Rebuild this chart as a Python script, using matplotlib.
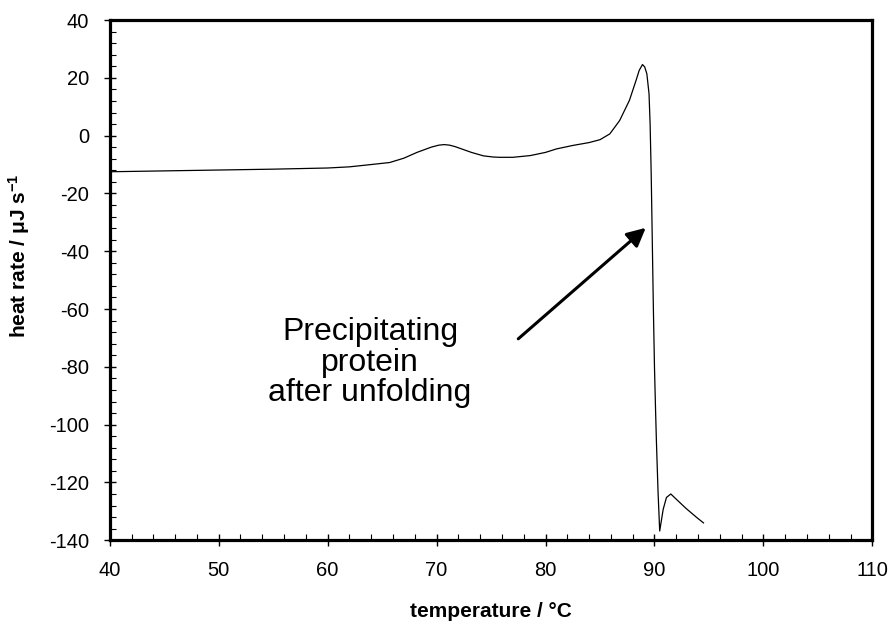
import matplotlib
matplotlib.use('Agg')
import matplotlib.pyplot as plt
from matplotlib.ticker import MultipleLocator

plt.rcParams['font.family'] = ['Liberation Sans', 'DejaVu Sans']
plt.rcParams['mathtext.fontset'] = 'custom'
plt.rcParams['mathtext.rm'] = 'Liberation Sans'
plt.rcParams['mathtext.bf'] = 'Liberation Sans:bold'
plt.rcParams['mathtext.default'] = 'bf'
plt.rcParams['axes.unicode_minus'] = False

# thermogram
temperature = [40, 45, 50, 55, 60, 62, 64, 65.7, 67, 68.2, 69.5, 70.2, 70.7, 71.2,
               71.7, 72.3, 73.2, 74.3, 75.2, 75.8, 77, 78.6, 80, 81, 82.5, 84, 85,
               85.9, 86.8, 87.7, 88.3, 88.6, 88.9, 89.1, 89.3, 89.5, 89.6, 89.7,
               89.8, 89.9, 90.0, 90.1, 90.18, 90.33, 90.48, 90.8, 91.1, 91.5, 92.0,
               92.9, 93.9, 94.5]
heat_rate = [-12.5, -12.2, -11.9, -11.6, -11.2, -10.8, -10.0, -9.3, -7.8, -5.8, -4.0,
             -3.3, -3.1, -3.3, -3.8, -4.6, -5.8, -7.0, -7.4, -7.5, -7.5, -6.9, -5.8,
             -4.6, -3.4, -2.4, -1.4, 0.6, 5.2, 12.2, 19, 22.6, 24.6, 23.8, 21.4, 14.5,
             4, -13.3, -36.5, -60, -80, -95, -106, -123.5, -136.8, -129.3, -125.2,
             -124, -125.8, -129, -132.2, -134]

note_text = 'Precipitating\nprotein\nafter unfolding'
note_xy = (63.9, -78.5)
arrow_tip = (89.2, -31.9)
arrow_tail = (77.5, -70.3)

fig = plt.figure(figsize=(8.92, 6.26), dpi=100)
ax = fig.add_axes([0.123, 0.137, 0.855, 0.831])

ax.plot(temperature, heat_rate, color='black', linewidth=0.9)

ax.annotate('', xy=arrow_tip, xytext=arrow_tail,
            arrowprops=dict(arrowstyle='-|>', color='black', lw=2.2,
                            mutation_scale=28, shrinkA=0, shrinkB=0))
ax.text(note_xy[0], note_xy[1], note_text, ha='center', va='center',
        fontsize=23, linespacing=1.02)

ax.set_xlim(40, 110)
ax.set_ylim(-140, 40)
ax.xaxis.set_major_locator(MultipleLocator(10))
ax.xaxis.set_minor_locator(MultipleLocator(2))
ax.yaxis.set_major_locator(MultipleLocator(20))
ax.yaxis.set_minor_locator(MultipleLocator(4))
ax.tick_params(which='major', direction='inout', length=8, width=1, labelsize=14.5, pad=11)
ax.tick_params(which='minor', direction='in', length=4, width=0.8)

for s in ax.spines.values():
    s.set_linewidth(2.3)

ax.set_xlabel('temperature / °C', fontsize=15, fontweight='bold', labelpad=16)
ax.set_ylabel(r'heat rate / μJ s$^{-1}$', fontsize=15, fontweight='bold')
ax.yaxis.set_label_coords(-0.102, 0.547)

fig.savefig('out.png', dpi=100)
